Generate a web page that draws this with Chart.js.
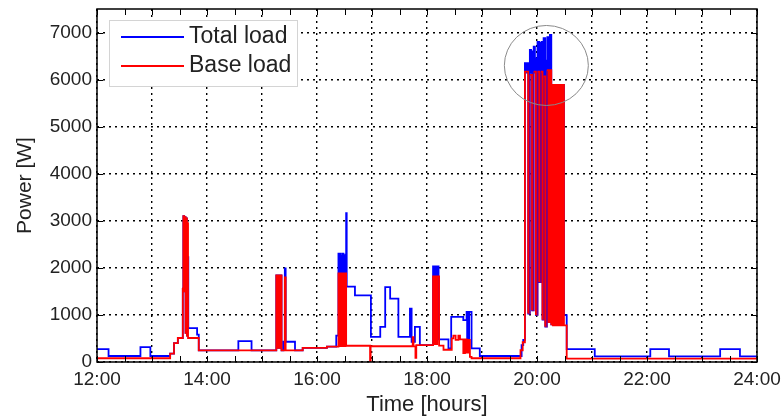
<!DOCTYPE html>
<html>
<head>
<meta charset="utf-8">
<title>Load profile</title>
<script src="https://cdn.jsdelivr.net/npm/chart.js@4"></script>
<style>
  html, body { margin: 0; padding: 0; background: #fff; }
  #wrap { width: 784px; height: 419px; }
</style>
</head>
<body>
<div id="wrap"><canvas id="loadChart" width="784" height="419"></canvas></div>
<script>
// hour labels on the time axis (every 2 h) and power ticks
const hourLabels = ["12:00", "14:00", "16:00", "18:00", "20:00", "22:00", "24:00"];
const powerTicks = [0, 1000, 2000, 3000, 4000, 5000, 6000, 7000];

// TOTAL LOAD  (time in hours, power in W, value held until next sample)
const totalTime = [
  12.00, 12.21, 12.79, 12.97, 13.33, 13.40, 13.47,
  13.56, 13.57, 13.585, 13.595, 13.61, 13.62, 13.635, 13.645, 13.66, 13.82, 13.85,
  14.57, 14.81,
  15.26, 15.275, 15.285, 15.30, 15.31, 15.325, 15.335, 15.355, 15.39, 15.415, 15.43, 15.60,
  15.74, 16.18, 16.35,
  16.39, 16.405, 16.415, 16.43, 16.44, 16.455, 16.465, 16.48, 16.49, 16.505, 16.515, 16.53, 16.54,
  16.69, 16.98, 17.15, 17.24, 17.33, 17.48, 17.69, 17.72, 17.78, 17.87,
  18.11, 18.125, 18.135, 18.15, 18.16, 18.175, 18.185, 18.21,
  18.39, 18.44, 18.66, 18.72, 18.73, 18.74, 18.755, 18.765, 18.81, 18.96,
  19.72, 19.75,
  // evening peak, fast switching
  19.78, 19.795, 19.80, 19.81, 19.815, 19.825, 19.83, 19.84,
  19.87, 19.877, 19.882, 19.892, 19.897, 19.91,
  19.94, 19.948, 19.953, 19.962, 19.967, 19.98,
  20.01, 20.018, 20.023, 20.031, 20.035, 20.04,
  20.07, 20.078, 20.084, 20.092, 20.096, 20.10,
  20.12, 20.128, 20.133, 20.141, 20.145, 20.15,
  20.18, 20.188, 20.196, 20.20, 20.21,
  20.235, 20.243, 20.248, 20.26, 20.275, 20.49, 20.54,
  21.05, 22.06, 22.40, 23.33, 23.69, 24.00
];
const totalLoad = [
  275, 127, 317, 127, 180, 400, 510,
  1560, 3100, 1500, 3080, 620, 3050, 560, 2230, 720, 580, 245,
  444, 245,
  1840, 300, 1840, 300, 1840, 300, 1840, 245, 430, 1990, 430, 245,
  300, 325, 560,
  2300, 340, 2300, 340, 2250, 340, 2300, 340, 2250, 340, 2280, 3160, 1600,
  1415, 535, 746, 1590, 1346, 535, 1135, 430, 746, 360,
  2030, 380, 2030, 380, 2030, 380, 2030, 480,
  290, 958, 888, 1063, 500, 1063, 470, 1063, 290, 127,
  360, 470,
  6350, 6150, 6330, 6150, 6350, 6200, 6350, 1030,
  6630, 6150, 6630, 6150, 6600, 1100,
  6700, 6150, 6700, 6150, 6450, 1000,
  6800, 6150, 6800, 6150, 6800, 1700,
  6780, 6240, 6800, 6150, 6800, 900,
  6880, 6150, 6880, 6150, 6880, 750,
  6400, 6900, 6150, 6900, 850,
  6950, 6150, 6950, 800, 5890, 994, 275,
  120, 275, 120, 275, 120, 120
];

// BASE LOAD
const baseTime = [
  12.00, 13.33, 13.40, 13.47,
  13.56, 13.57, 13.585, 13.595, 13.61, 13.62, 13.635, 13.645, 13.655, 13.85,
  15.26, 15.275, 15.285, 15.30, 15.31, 15.325, 15.335, 15.355, 15.415, 15.43,
  15.74, 16.18,
  16.39, 16.405, 16.415, 16.43, 16.44, 16.455, 16.465, 16.48, 16.49, 16.505, 16.515, 16.53,
  16.965, 16.975, 17.74, 17.755, 17.79, 17.805,
  18.11, 18.125, 18.135, 18.15, 18.16, 18.175, 18.185, 18.22,
  18.30, 18.45, 18.48, 18.52, 18.57, 18.60, 18.66, 18.69, 18.72, 18.75, 18.78, 18.81,
  19.70, 19.74,
  19.78, 19.84, 19.87, 19.91, 19.94, 19.98, 20.01, 20.04, 20.07, 20.10,
  20.12, 20.15, 20.18, 20.21, 20.235, 20.26,
  20.275, 20.29, 20.30, 20.315, 20.325, 20.34, 20.35, 20.365, 20.375, 20.39,
  20.40, 20.415, 20.425, 20.44, 20.45, 20.465, 20.475, 20.49,
  20.54, 24.00
];
const baseLoad = [
  80, 180, 400, 510,
  1560, 3100, 1500, 3080, 620, 3050, 560, 2950, 510, 245,
  1840, 300, 1840, 300, 1840, 300, 1840, 245, 1800, 245,
  300, 325,
  1880, 340, 1880, 340, 1880, 340, 1880, 340, 1880, 340, 1880, 345,
  0, 335, 530, 330, 90, 360,
  1820, 380, 1820, 380, 1820, 380, 1820, 350,
  260, 500, 560, 470, 560, 480, 190, 480, 200, 470, 110, 80,
  250, 420,
  6170, 1030, 6100, 1100, 6170, 1000, 6170, 1700, 6170, 900,
  6070, 750, 6200, 850, 6200, 800,
  5890, 780, 5890, 780, 5890, 780, 5890, 780, 5890, 780,
  5890, 780, 5890, 780, 5890, 780, 5890, 780,
  70, 70
];

// marked peak (data coords) for the grey circle
const peakMark = { x: 20.17, y: 6300 };

const FONT = "'Liberation Sans', Arial, Helvetica, sans-serif";
const TEXT = "#222";

function toPoints(times, values) {
  return times.map((t, i) => ({ x: t, y: values[i] }));
}

// rising edges inside the peak are drawn lighter
function baseSegmentColor(ctx) {
  const x0 = ctx.p0.parsed.x;
  if (x0 >= 19.84 && x0 < 20.17 && ctx.p1.parsed.y > ctx.p0.parsed.y) {
    return "rgba(255, 0, 0, 0.45)";
  }
  return undefined;
}

// box, inward ticks, circle and legend
const framePlugin = {
  id: "frame",
  afterDraw(chart) {
    const ctx = chart.ctx;
    const ca = chart.chartArea;
    const xs = chart.scales.x;
    const ys = chart.scales.y;

    // circle round the evening peak
    ctx.save();
    ctx.strokeStyle = "#8a8a8a";
    ctx.lineWidth = 1;
    ctx.beginPath();
    ctx.ellipse(xs.getPixelForValue(peakMark.x), ys.getPixelForValue(peakMark.y), 42, 40, 0, 0, Math.PI * 2);
    ctx.stroke();
    ctx.restore();

    // inward ticks
    ctx.save();
    ctx.strokeStyle = "#000";
    ctx.lineWidth = 1;
    ctx.beginPath();
    for (let h = 12; h <= 24; h += 0.5) {
      const px = Math.round(xs.getPixelForValue(h)) + 0.5;
      ctx.moveTo(px, ca.bottom); ctx.lineTo(px, ca.bottom - 6);
      ctx.moveTo(px, ca.top); ctx.lineTo(px, ca.top + 6);
    }
    powerTicks.forEach(v => {
      const py = Math.round(ys.getPixelForValue(v)) + 0.5;
      ctx.moveTo(ca.left, py); ctx.lineTo(ca.left + 6, py);
      ctx.moveTo(ca.right, py); ctx.lineTo(ca.right - 6, py);
    });
    ctx.stroke();

    // box
    ctx.lineWidth = 1.5;
    ctx.strokeRect(ca.left, ca.top, ca.right - ca.left, ca.bottom - ca.top);
    ctx.restore();

    // legend
    const lx = ca.left + 12, ly = ca.top + 11;
    ctx.save();
    ctx.fillStyle = "#fff";
    ctx.fillRect(lx, ly, 188, 66);
    ctx.strokeStyle = "#d4d4d4";
    ctx.lineWidth = 1;
    ctx.strokeRect(lx + 0.5, ly + 0.5, 188, 66);
    ctx.font = "23px " + FONT;
    ctx.textBaseline = "middle";
    chart.data.datasets.forEach((ds, i) => {
      const y = ly + 17 + i * 29;
      ctx.strokeStyle = ds.borderColor;
      ctx.lineWidth = 2;
      ctx.beginPath();
      ctx.moveTo(lx + 12, y); ctx.lineTo(lx + 75, y);
      ctx.stroke();
      ctx.fillStyle = TEXT;
      ctx.fillText(ds.label, lx + 80, y);
    });
    ctx.restore();
  }
};

new Chart(document.getElementById("loadChart"), {
  type: "line",
  data: {
    datasets: [
      {
        label: "Total load",
        data: toPoints(totalTime, totalLoad),
        borderColor: "#0000ff",
        borderWidth: 1.8,
        stepped: true,
        pointRadius: 0,
        fill: false,
        order: 2
      },
      {
        label: "Base load",
        data: toPoints(baseTime, baseLoad),
        borderColor: "#ff0000",
        borderWidth: 1.8,
        stepped: true,
        pointRadius: 0,
        fill: false,
        order: 1,
        segment: { borderColor: baseSegmentColor }
      }
    ]
  },
  options: {
    responsive: false,
    animation: false,
    layout: { padding: { left: 0, right: 27, top: 9, bottom: 0 } },
    plugins: {
      legend: { display: false },
      tooltip: { enabled: false }
    },
    scales: {
      x: {
        type: "linear",
        min: 12,
        max: 24,
        ticks: {
          stepSize: 1,
          autoSkip: false,
          maxRotation: 0,
          padding: 6,
          color: TEXT,
          font: { family: FONT, size: 19 },
          callback: v => (v % 2 === 0 ? hourLabels[(v - 12) / 2] : "")
        },
        grid: { color: "#000", lineWidth: 1.4, drawTicks: false },
        border: { display: false, dash: [2, 4] },
        title: {
          display: true,
          text: "Time [hours]",
          color: TEXT,
          font: { family: FONT, size: 22 },
          padding: { top: 0, bottom: 1 }
        },
        afterFit: s => { s.height = 57; s.paddingLeft = 0; s.paddingRight = 0; }
      },
      y: {
        min: 0,
        max: 7500,
        ticks: {
          stepSize: 1000,
          padding: 5,
          color: TEXT,
          font: { family: FONT, size: 19 },
          callback: v => String(v)
        },
        afterBuildTicks: s => { s.ticks = powerTicks.map(v => ({ value: v })); },
        grid: { color: "#000", lineWidth: 1.4, drawTicks: false },
        border: { display: false, dash: [2, 4] },
        title: {
          display: true,
          text: "Power [W]",
          color: TEXT,
          font: { family: FONT, size: 21 },
          padding: { top: 13, bottom: 0 }
        },
        afterFit: s => { s.width = 97; s.paddingTop = 0; s.paddingBottom = 0; }
      }
    }
  },
  plugins: [framePlugin]
});
</script>
</body>
</html>
